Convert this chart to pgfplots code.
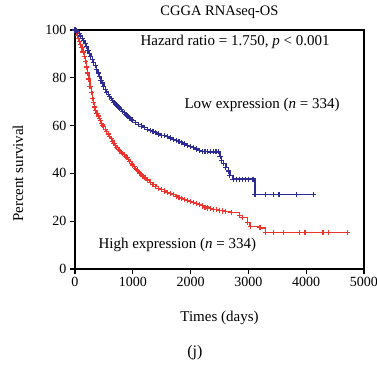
\documentclass[border=0pt]{standalone}
\usepackage{fontspec}
\setmainfont{Liberation Serif}
\usepackage{pgfplots}
\usepackage{pgfplotstable}
\pgfplotsset{compat=1.18}
\definecolor{kmred}{RGB}{238,52,46}
\definecolor{kmblue}{RGB}{44,44,148}
\pgfplotstableread{
t v
0 100
20 99
40 97.8
60 96.5
80 95
100 94
120 92.5
140 90.8
160 89
180 87
200 84.5
220 82
240 79.5
260 76.5
280 74
300 71.5
320 69.5
340 67.8
360 66.4
380 65
400 64
420 63
440 62
460 61
480 60.2
500 59.5
525 58.5
550 57.5
575 56.5
600 55.5
625 54.5
650 53.5
675 52.5
700 51.5
725 50.7
750 50
775 49.4
800 48.8
825 48.3
850 47.8
875 47.2
900 46.5
925 45.8
950 45
975 44.2
1000 43.5
1025 42.7
1050 42
1075 41.4
1100 40.8
1125 40.1
1150 39.5
1175 38.9
1200 38.3
1225 37.7
1250 37.2
1300 36.2
1350 35.3
1400 34.5
1450 33.8
1500 33.2
1550 32.6
1600 32
1650 31.6
1700 31.1
1750 30.5
1800 30
1850 29.5
1900 29
1950 28.6
2000 28.3
2050 27.9
2100 27.4
2150 26.9
2200 26.4
2250 25.9
2300 25.5
2350 25.2
2400 25
2450 24.8
2500 24.5
2550 24.3
2600 24
2700 23.5
2850 22.5
2900 21.5
2980 19.5
3030 17.7
3200 17.2
3290 15.2
3430 15.2
3600 15.2
3890 15.2
3980 15.2
4290 15.2
4380 15.2
4710 15.2
4720 15.2
}\highdata
\pgfplotstableread{
t v
0 100
25 99.8
50 99.3
75 98.5
100 97.5
125 96.5
150 95.5
175 94.3
200 93
225 91.5
250 90
275 88.8
300 87.5
325 86.3
350 85
375 83.5
400 82
425 80.5
450 79
475 77.8
500 76.5
525 75.2
550 74
575 73
600 72
625 71.2
650 70.5
675 69.7
700 69
725 68.4
750 67.8
775 67.2
800 66.6
825 66
850 65.4
875 64.8
900 64.3
925 63.7
950 63.2
975 62.7
1000 62.2
1050 61.3
1100 60.5
1150 59.8
1200 59.1
1250 58.5
1300 58
1350 57.5
1400 57
1450 56.5
1500 56
1550 55.7
1600 55.3
1650 54.8
1700 54.3
1750 53.8
1800 53.3
1850 52.8
1900 52.3
1950 51.8
2000 51.2
2050 50.7
2100 50.2
2150 49.7
2200 49.3
2250 49.1
2300 49
2350 49
2400 49
2440 49
2475 49
2510 47
2540 45.5
2570 44
2610 42.5
2650 41
2680 39
2735 37.6
2800 37.6
2850 37.6
2900 37.6
2950 37.6
3000 37.6
3080 37.6
3115 31.2
3290 31.2
3440 31.2
3530 31.2
3835 31.2
4120 31.2
}\lowdata
\begin{document}
\begin{tikzpicture}
\useasboundingbox (-75pt,-95pt) rectangle (302pt,269pt);
\begin{axis}[
  scale only axis,
  width=289pt, height=239pt,
  xmin=0, xmax=5000, ymin=0, ymax=100,
  xtick={0,1000,2000,3000,4000,5000},
  ytick={0,20,40,60,80,100},
  xtick pos=bottom, ytick pos=left,
  tick align=outside,
  major tick length=5pt,
  axis line style={line width=1.2pt},
  every tick/.style={black, line width=1.2pt},
  scaled x ticks=false,
  /pgf/number format/assume math mode=true,
  /pgf/number format/1000 sep={},
  tick label style={font=\fontsize{14}{16}\selectfont},
  label style={font=\fontsize{15}{18}\selectfont},
  title={CGGA RNAseq-OS},
  title style={font=\fontsize{14.5}{17}\selectfont, at={(axis description cs:0.5,1)}, anchor=south, yshift=2pt},
  xlabel={Times (days)},
  ylabel={Percent survival},
  xlabel style={at={(axis description cs:0.5,-0.205)}, anchor=center},
  ylabel style={at={(axis description cs:-0.197,0.4)}, anchor=center},
  clip=false,
]
\addplot[const plot, kmred, line width=1.3pt] table[x=t,y=v] {\highdata};
\addplot[only marks, mark=+, kmred, mark size=2.6pt, mark options={line width=1.1pt}] table[x=t,y=v] {\highdata};
\addplot[const plot, kmblue, line width=1.3pt] table[x=t,y=v] {\lowdata};
\addplot[only marks, mark=+, kmblue, mark size=2.6pt, mark options={line width=1.1pt}] table[x=t,y=v] {\lowdata};
\node[anchor=west, font=\fontsize{15}{18}\selectfont] at (axis cs:1073,95) {Hazard ratio = 1.750, \textit{p} < 0.001};
\node[anchor=west, font=\fontsize{15}{18}\selectfont] at (axis cs:1834,68.6) {Low expression (\textit{n} = 334)};
\node[anchor=west, font=\fontsize{15}{18}\selectfont] at (axis cs:346,10) {High expression (\textit{n} = 334)};
\node[font=\fontsize{16}{19}\selectfont] at (axis description cs:0.415,-0.35) {(j)};
\end{axis}
\end{tikzpicture}
\end{document}
